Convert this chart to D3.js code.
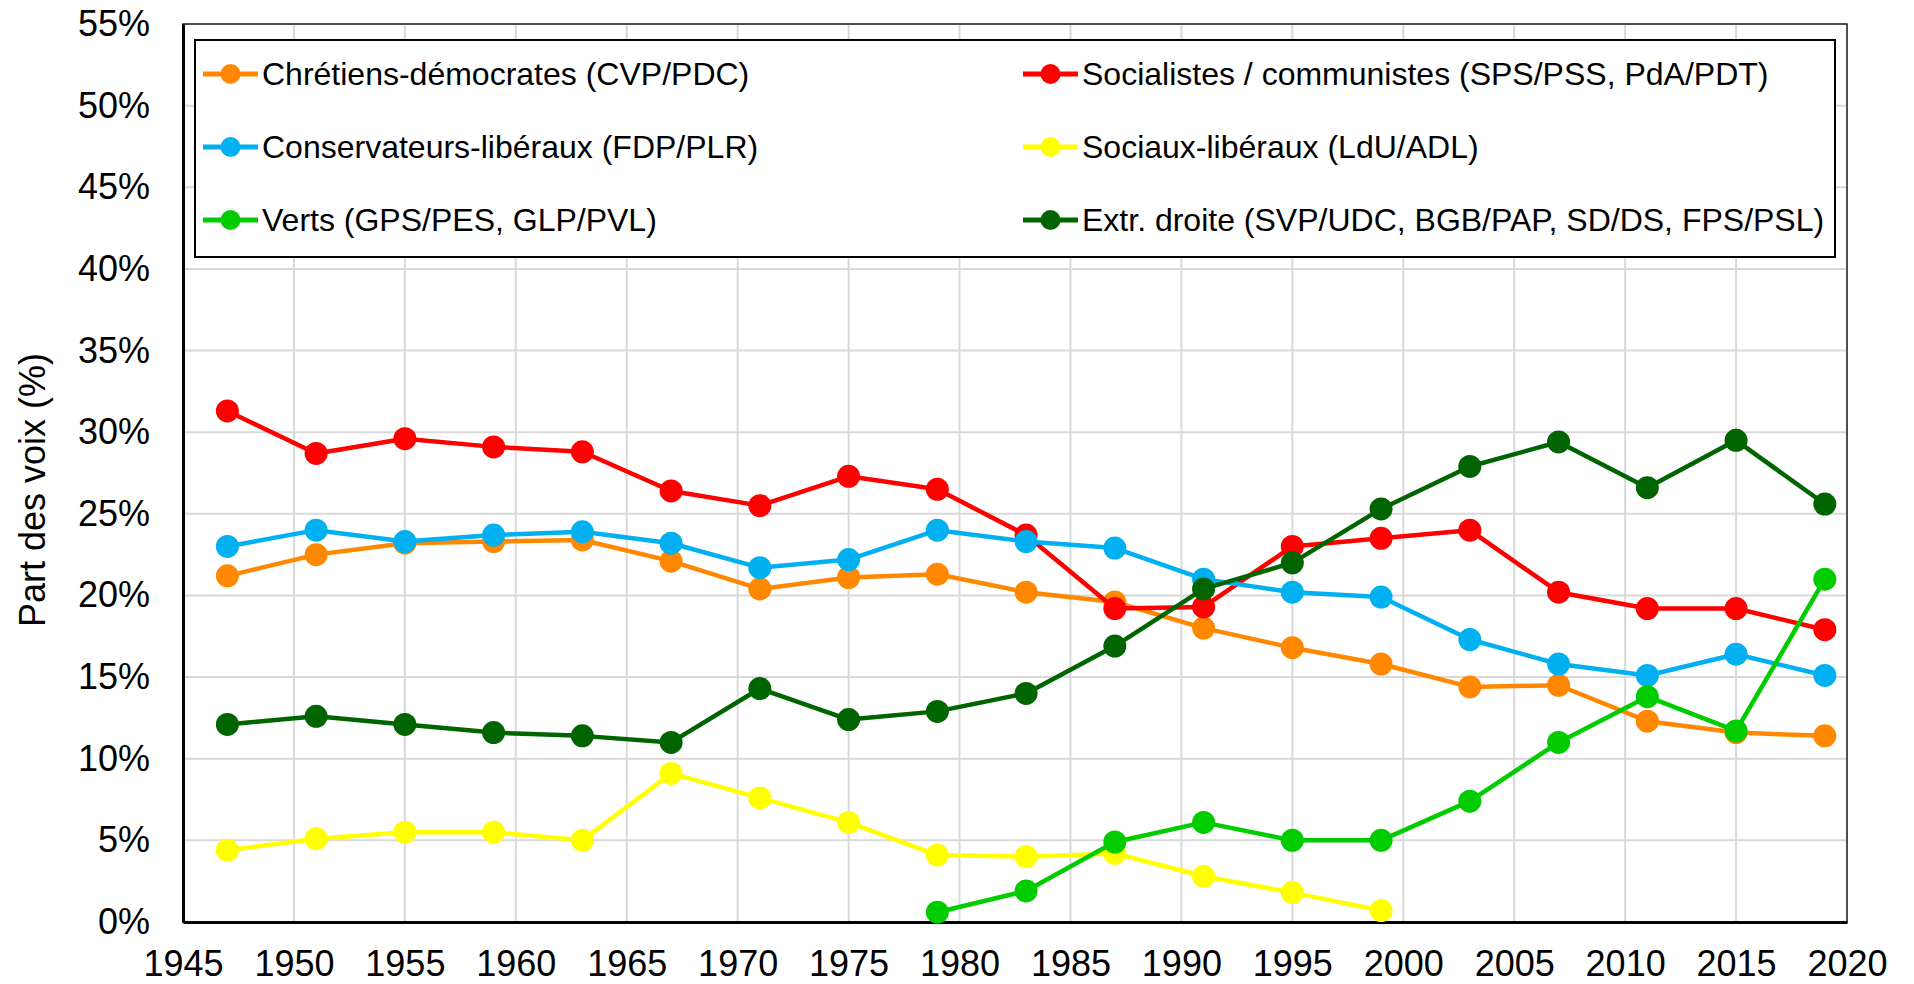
<!DOCTYPE html>
<html>
<head>
<meta charset="utf-8">
<script src="https://cdn.jsdelivr.net/npm/d3@7"></script>
<style>
  html, body { margin: 0; padding: 0; background: #fff; }
  svg { display: block; font-family: "Liberation Sans", Arial, sans-serif; }
</style>
</head>
<body>
<div id="chart"></div>
<script>
// election years
const years = [1947, 1951, 1955, 1959, 1963, 1967, 1971, 1975, 1979, 1983,
               1987, 1991, 1995, 1999, 2003, 2007, 2011, 2015, 2019];

const cvp = [21.2, 22.5, 23.2, 23.3, 23.4, 22.1, 20.4, 21.1, 21.3, 20.2,
             19.6, 18.0, 16.8, 15.8, 14.4, 14.5, 12.3, 11.6, 11.4];
const sps = [31.3, 28.7, 29.6, 29.1, 28.8, 26.4, 25.5, 27.3, 26.5, 23.7,
             19.2, 19.3, 23.0, 23.5, 24.0, 20.2, 19.2, 19.2, 17.9];
const fdp = [23.0, 24.0, 23.3, 23.7, 23.9, 23.2, 21.7, 22.2, 24.0, 23.3,
             22.9, 21.0, 20.2, 19.9, 17.3, 15.8, 15.1, 16.4, 15.1];
const ldu = [4.4, 5.1, 5.5, 5.5, 5.0, 9.1, 7.6, 6.1, 4.1, 4.0,
             4.2, 2.8, 1.8, 0.7, null, null, null, null, null];
const verts = [null, null, null, null, null, null, null, null, 0.6, 1.9,
               4.9, 6.1, 5.0, 5.0, 7.4, 11.0, 13.8, 11.7, 21.0];
const droite = [12.1, 12.6, 12.1, 11.6, 11.4, 11.0, 14.3, 12.4, 12.9, 14.0,
                16.9, 20.4, 22.0, 25.3, 27.9, 29.4, 26.6, 29.5, 25.6];

const seriesNames = [
    "Chrétiens-démocrates (CVP/PDC)",
    "Socialistes / communistes (SPS/PSS, PdA/PDT)",
    "Conservateurs-libéraux (FDP/PLR)",
    "Sociaux-libéraux (LdU/ADL)",
    "Verts (GPS/PES, GLP/PVL)",
    "Extr. droite (SVP/UDC, BGB/PAP, SD/DS, FPS/PSL)"
];
const seriesValues = [cvp, sps, fdp, ldu, verts, droite];
const seriesColors = ["#ff8800", "#ff0000", "#00b0f0", "#ffff00", "#00cc00", "#006400"];

const xTicks = d3.range(1945, 2021, 5);
const yTicks = d3.range(0, 56, 5);

const W = 1914, H = 984;
const margin = { top: 24, right: 67, bottom: 62, left: 183 };
const width = W - margin.left - margin.right;
const height = H - margin.top - margin.bottom;

const xScale = d3.scaleLinear().domain([1945, 2020]).range([0, width]);
const yScale = d3.scaleLinear().domain([0, 55]).range([height, 0]);

const svg = d3.select("#chart").append("svg")
              .attr("width", W)
              .attr("height", H);

const g = svg.append("g")
             .attr("transform", `translate(${margin.left}, ${margin.top})`);

// grid
g.append("g").selectAll("line.h")
 .data(yTicks)
 .join("line")
 .attr("x1", 0).attr("x2", width)
 .attr("y1", d => yScale(d)).attr("y2", d => yScale(d))
 .attr("stroke", "#d9d9d9").attr("stroke-width", 2);
g.append("g").selectAll("line.v")
 .data(xTicks)
 .join("line")
 .attr("x1", d => xScale(d)).attr("x2", d => xScale(d))
 .attr("y1", 0).attr("y2", height)
 .attr("stroke", "#d9d9d9").attr("stroke-width", 2);

// frame
g.append("rect")
 .attr("width", width).attr("height", height)
 .attr("fill", "none").attr("stroke", "#222").attr("stroke-width", 1.5);

// axes
const xAxis = g.append("g")
               .attr("transform", `translate(0, ${height})`)
               .call(d3.axisBottom(xScale).tickValues(xTicks).tickFormat(d3.format("d"))
                       .tickSize(0).tickPadding(28));
const yAxis = g.append("g")
               .call(d3.axisLeft(yScale).tickValues(yTicks).tickFormat(d => d + "%")
                       .tickSize(0).tickPadding(33));
[xAxis, yAxis].forEach(a => {
    a.select(".domain").attr("stroke", "#000").attr("stroke-width", 3);
    a.selectAll("text").attr("font-size", 36).attr("fill", "#000")
     .attr("font-family", "'Liberation Sans', Arial, sans-serif");
});

svg.append("text")
   .attr("transform", "translate(45, 490) rotate(-90)")
   .attr("text-anchor", "middle")
   .attr("font-size", 36)
   .text("Part des voix (%)");

// series
const line = d3.line()
               .defined(d => d.v !== null)
               .x(d => xScale(d.y))
               .y(d => yScale(d.v));

seriesValues.forEach((vals, i) => {
    const pts = years.map((y, j) => ({ y: y, v: vals[j] }));
    const sg = g.append("g");
    sg.append("path")
      .datum(pts)
      .attr("d", line)
      .attr("fill", "none")
      .attr("stroke", seriesColors[i])
      .attr("stroke-width", 4.5)
      .attr("stroke-linejoin", "round");
    sg.selectAll("circle")
      .data(pts.filter(d => d.v !== null))
      .join("circle")
      .attr("cx", d => xScale(d.y))
      .attr("cy", d => yScale(d.v))
      .attr("r", 11.5)
      .attr("fill", seriesColors[i]);
});

// legend
const legend = svg.append("g");
legend.append("rect")
      .attr("x", 195).attr("y", 40)
      .attr("width", 1640).attr("height", 217)
      .attr("fill", "#fff").attr("stroke", "#000").attr("stroke-width", 2);

const legendCols = [203, 1023];
const legendRows = [74, 147, 220];
seriesNames.forEach((name, i) => {
    const lx = legendCols[i % 2];
    const ly = legendRows[Math.floor(i / 2)];
    const item = legend.append("g").attr("transform", `translate(${lx}, ${ly})`);
    item.append("line")
        .attr("x1", 0).attr("x2", 55)
        .attr("stroke", seriesColors[i]).attr("stroke-width", 5);
    item.append("circle")
        .attr("cx", 27.5).attr("r", 10)
        .attr("fill", seriesColors[i]);
    item.append("text")
        .attr("x", 59).attr("y", 11)
        .attr("font-size", 32)
        .text(name);
});
</script>
</body>
</html>
